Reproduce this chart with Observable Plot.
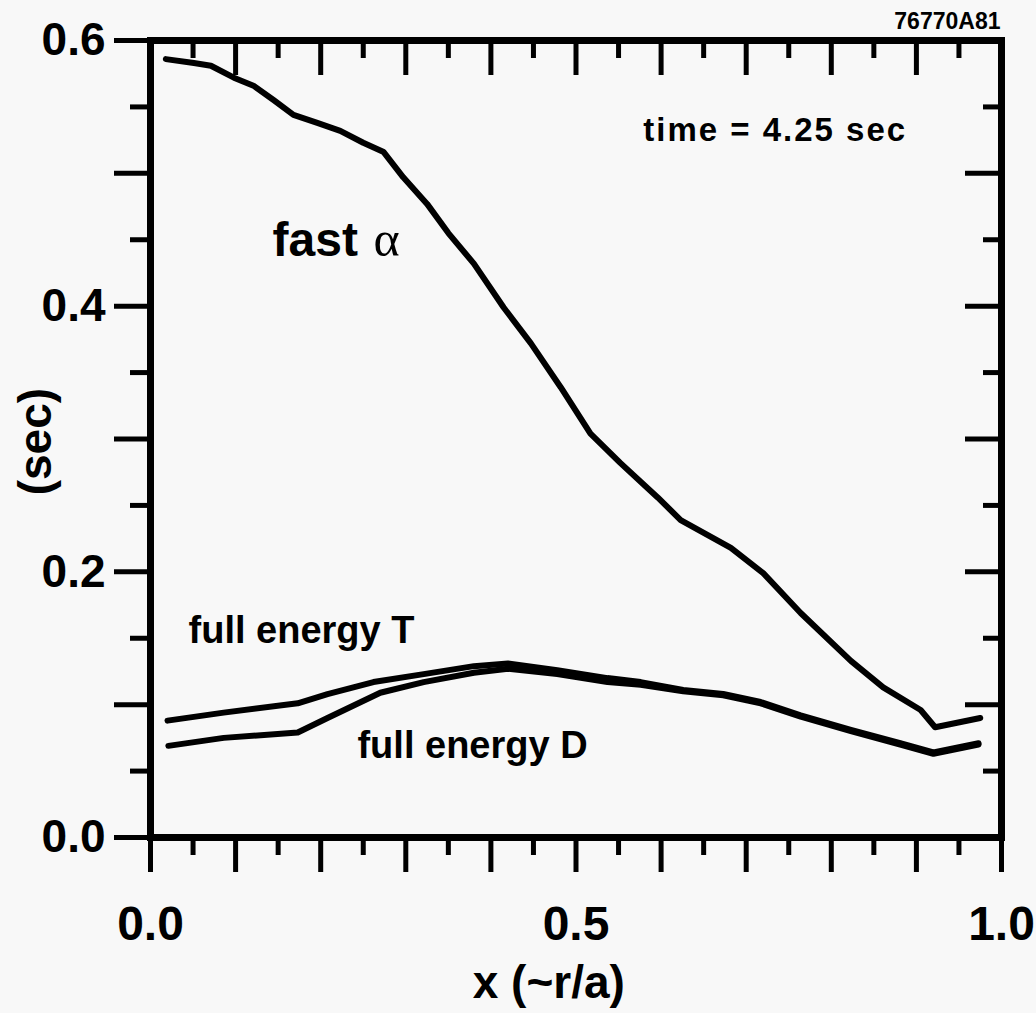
<!DOCTYPE html>
<html>
<head>
<meta charset="utf-8">
<script src="https://cdn.jsdelivr.net/npm/d3@7"></script>
<script src="https://cdn.jsdelivr.net/npm/@observablehq/plot@0.6"></script>
<style>
  html, body { margin: 0; padding: 0; background: #f8f8f8; }
  #chart { width: 1036px; height: 1013px; }
</style>
</head>
<body>
<div id="chart"></div>
<script>
// ---- data ----
const alphaX = [0.018,0.051,0.071,0.098,0.121,0.145,0.168,0.196,0.223,0.250,0.274,0.297,0.325,0.350,0.380,0.415,0.447,0.482,0.517,0.552,0.596,0.623,0.682,0.720,0.764,0.823,0.861,0.905,0.922,0.975];
const alphaY = [0.586,0.583,0.581,0.572,0.566,0.555,0.544,0.538,0.532,0.523,0.516,0.497,0.477,0.455,0.432,0.399,0.372,0.339,0.304,0.282,0.256,0.239,0.218,0.199,0.169,0.133,0.113,0.096,0.083,0.090];
const tX = [0.020,0.086,0.173,0.208,0.262,0.321,0.380,0.420,0.478,0.537,0.576,0.626,0.673,0.717,0.764,0.823,0.881,0.920,0.973];
const tY = [0.088,0.094,0.101,0.108,0.117,0.123,0.129,0.131,0.126,0.120,0.117,0.111,0.108,0.102,0.092,0.081,0.071,0.064,0.071];
const dX = [0.021,0.086,0.173,0.208,0.270,0.321,0.380,0.420,0.478,0.537,0.576,0.626,0.673,0.717,0.764,0.823,0.881,0.920,0.973];
const dY = [0.069,0.075,0.079,0.090,0.109,0.117,0.124,0.127,0.123,0.117,0.115,0.110,0.107,0.101,0.091,0.080,0.070,0.063,0.070];

// ticks
const xMajor = [0,0.1,0.2,0.3,0.4,0.5,0.6,0.7,0.8,0.9,1.0];
const xMinor = [0.05,0.15,0.25,0.35,0.45,0.55,0.65,0.75,0.85,0.95];
const xLabels = [0,0.5,1.0];
const yMajor = [0,0.1,0.2,0.3,0.4,0.5,0.6];
const yMinor = [0.05,0.15,0.25,0.35,0.45,0.55];
const yLabels = [0,0.2,0.4,0.6];

// annotations
const xTitle = "x (~r/a)";
const yTitle = "(sec)";
const figId = "76770A81";
const timeNote = "time = 4.25 sec";
const alphaName = ["fast", "\u03B1"];
const tName = "full energy T";
const dName = "full energy D";

const toRows = (xs, ys) => xs.map((x, i) => ({x, y: ys[i]}));

const W = 1036, H = 1013;
const mL = 150, mR = 35, mT = 40, mB = 176;
const innerW = W - mL - mR, innerH = H - mT - mB;
const font = "'Liberation Sans', Arial, Helvetica, sans-serif";

const plot = Plot.plot({
  width: W,
  height: H,
  marginLeft: mL,
  marginRight: mR,
  marginTop: mT,
  marginBottom: mB,
  style: {background: "#f8f8f8", fontFamily: font, color: "#000"},
  x: {domain: [0, 1]},
  y: {domain: [0, 0.6]},
  marks: [
    // outward ticks bottom / left
    Plot.axisX(xMajor, {anchor: "bottom", tickSize: 35, tickFormat: () => "", strokeWidth: 5, label: null}),
    Plot.axisX(xMinor, {anchor: "bottom", tickSize: 18, tickFormat: () => "", strokeWidth: 5, label: null}),
    Plot.axisY(yMajor, {anchor: "left", tickSize: 36, tickFormat: () => "", strokeWidth: 5, label: null}),
    Plot.axisY(yMinor, {anchor: "left", tickSize: 20, tickFormat: () => "", strokeWidth: 5, label: null}),
    // inward ticks top / right
    Plot.tickX(xMajor, {x: d => d, insetBottom: innerH - 35, strokeWidth: 5}),
    Plot.tickX(xMinor, {x: d => d, insetBottom: innerH - 18, strokeWidth: 5}),
    Plot.tickY(yMajor, {y: d => d, insetLeft: innerW - 36, strokeWidth: 5}),
    Plot.tickY(yMinor, {y: d => d, insetLeft: innerW - 18, strokeWidth: 5}),
    // tick labels
    Plot.axisX(xLabels, {anchor: "bottom", tickSize: 0, tickPadding: 68, tickFormat: d => d.toFixed(1),
      fontSize: 48, fontWeight: "bold", label: null}),
    Plot.axisY(yLabels, {anchor: "left", tickSize: 0, tickPadding: 45, tickFormat: d => d.toFixed(1),
      fontSize: 46, fontWeight: "bold", label: null}),
    Plot.frame({strokeWidth: 7}),
    // curves
    Plot.line(toRows(alphaX, alphaY), {x: "x", y: "y", strokeWidth: 6, strokeLinejoin: "round", strokeLinecap: "round"}),
    Plot.line(toRows(tX, tY), {x: "x", y: "y", strokeWidth: 6, strokeLinejoin: "round", strokeLinecap: "round"}),
    Plot.line(toRows(dX, dY), {x: "x", y: "y", strokeWidth: 6, strokeLinejoin: "round", strokeLinecap: "round"}),
    // annotations
    Plot.text([alphaName[0]], {x: 0.1434, y: 0.438, text: d => d, textAnchor: "start", lineAnchor: "bottom",
      fontSize: 48, fontWeight: "bold"}),
    Plot.text([alphaName[1]], {x: 0.262, y: 0.438, text: d => d, textAnchor: "start", lineAnchor: "bottom",
      fontSize: 50, fontFamily: "'Liberation Serif', 'DejaVu Serif', 'Times New Roman', serif"}),
    Plot.text([timeNote], {x: 0.579, y: 0.5247, text: d => d, textAnchor: "start", lineAnchor: "bottom",
      fontSize: 33, fontWeight: "bold"}),
    Plot.text([tName], {x: 0.0447, y: 0.1468, text: d => d, textAnchor: "start", lineAnchor: "bottom",
      fontSize: 38, fontWeight: "bold"}),
    Plot.text([dName], {x: 0.2432, y: 0.0602, text: d => d, textAnchor: "start", lineAnchor: "bottom",
      fontSize: 38, fontWeight: "bold"}),
    Plot.text([figId], {x: 0.9988, y: 0.609, text: d => d, textAnchor: "end", lineAnchor: "bottom",
      fontSize: 23, fontWeight: "bold"}),
    Plot.text([xTitle], {x: 0.468, frameAnchor: "bottom", dy: 160, text: d => d, textAnchor: "middle", lineAnchor: "bottom",
      fontSize: 46, fontWeight: "bold"}),
    Plot.text([yTitle], {y: 0.298, frameAnchor: "left", dx: -114, text: d => d, rotate: -90, textAnchor: "middle", lineAnchor: "middle",
      fontSize: 46, fontWeight: "bold"})
  ]
});

// wider tracking for the time note, as in the original figure
d3.select(plot).selectAll("text").each(function () {
  if (this.textContent === timeNote) this.setAttribute("letter-spacing", "2px");
});

document.getElementById("chart").appendChild(plot);
</script>
</body>
</html>
